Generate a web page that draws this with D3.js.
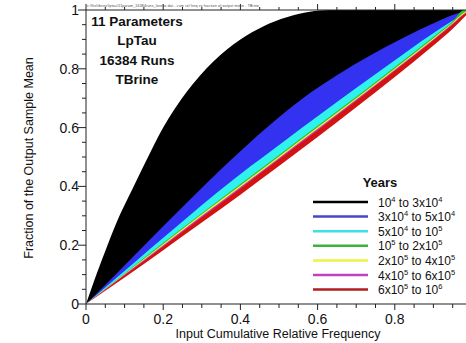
<!DOCTYPE html>
<meta charset="utf-8">
<style>
body{margin:0;background:#fff;}
text{font-family:"Liberation Sans",Arial,sans-serif;fill:#111;}
.tick{font-size:14px;}
.title{font-size:12.5px;}
.note{font-size:13.5px;font-weight:bold;}
.leg{font-size:12px;}
.axis line{stroke:#222;stroke-width:1;}
</style>
<body>
<script src="https://cdnjs.cloudflare.com/ajax/libs/d3/7.8.5/d3.min.js"></script>
<script>

// band boundaries, [x, y], from the top band down
var edgeBlackTop=[[0,0],[0.02,0.075],[0.05,0.18],[0.08,0.28],[0.12,0.39],[0.17,0.525],[0.2,0.6],[0.26,0.72],
	[0.33,0.825],[0.4,0.9],[0.46,0.945],[0.52,0.975],[0.58,0.994],[0.63,1],[1,1]];
var edgeBlackBlue=[[0,0],[0.08,0.105],[0.168,0.222],[0.254,0.335],[0.347,0.455],[0.477,0.61],[0.562,0.7],
	[0.65,0.778],[0.736,0.845],[0.821,0.905],[0.909,0.96],[0.961,0.988],[1,1]];
var edgeBlueCyan=[[0,0],[0.08,0.09],[0.168,0.19],[0.254,0.285],[0.339,0.378],[0.427,0.469],[0.477,0.518],
	[0.563,0.603],[0.651,0.688],[0.736,0.769],[0.821,0.849],[0.909,0.929],[0.961,0.973],[1,1]];
var edgeCyanGreen=[[0,0],[0.1,0.104],[0.2,0.208],[0.3,0.309],[0.4,0.408],[0.5,0.507],[0.6,0.606],[0.7,0.705],
	[0.8,0.806],[0.9,0.909],[0.95,0.962],[0.98,1],[1,1]];
var edgeGreenYellow=[[0,0],[0.1,0.102],[0.2,0.204],[0.3,0.305],[0.4,0.403],[0.5,0.502],[0.6,0.601],[0.7,0.7],
	[0.8,0.801],[0.9,0.904],[0.95,0.957],[0.985,0.995],[1,1]];
var edgeYellowMagenta=[[0,0],[0.1,0.1],[0.2,0.2],[0.3,0.3],[0.4,0.398],[0.5,0.497],[0.6,0.596],[0.7,0.696],
	[0.8,0.797],[0.9,0.9],[0.95,0.954],[0.985,0.992],[1,1]];
var edgeMagentaRed=[[0,0],[0.1,0.098],[0.2,0.196],[0.3,0.295],[0.4,0.393],[0.5,0.492],[0.6,0.591],[0.7,0.691],
	[0.8,0.793],[0.9,0.897],[0.95,0.951],[0.985,0.99],[1,1]];
var edgeRedBottom=[[0,0],[0.1,0.09],[0.2,0.183],[0.3,0.277],[0.4,0.372],[0.5,0.469],[0.6,0.568],[0.7,0.669],
	[0.8,0.772],[0.9,0.879],[0.95,0.936],[0.985,0.982],[1,1]];

var bandNames=["10^4 to 3x10^4","3x10^4 to 5x10^4","5x10^4 to 10^5","10^5 to 2x10^5",
	"2x10^5 to 4x10^5","4x10^5 to 6x10^5","6x10^5 to 10^6"];
var bandFill=["#000000","#3232f0","#2ff2ee","#30c030","#f5f53a","#c83ccc","#d31212"];
var legendStroke=["#000000","#4646c8","#3ee0e6","#3cb43c","#f0f046","#c040c0","#b01e1e"];
var notes=["11 Parameters","LpTau","16384 Runs","TBrine"];
var xTicks=[0,0.2,0.4,0.6,0.8];
var yTicks=[0,0.2,0.4,0.6,0.8,1];

var edges=[edgeBlackTop,edgeBlackBlue,edgeBlueCyan,edgeCyanGreen,edgeGreenYellow,edgeYellowMagenta,edgeMagentaRed,edgeRedBottom];

var W=466,H=343;
var svg=d3.select("body").append("svg").attr("width",W).attr("height",H);

var x=d3.scaleLinear().domain([0,1]).range([86,472]);
var y=d3.scaleLinear().domain([0,1]).range([304,10]);

svg.append("clipPath").attr("id","plot").append("rect")
	.attr("x",x(0)).attr("y",y(1)).attr("width",x(1)-x(0)).attr("height",y(0)-y(1));

// each band is painted as the area under its upper edge, the next one on top of it
var area=d3.area().curve(d3.curveMonotoneX).x(d=>x(d[0])).y0(y(0)).y1(d=>y(d[1]));
var bands=svg.append("g").attr("clip-path","url(#plot)");
edges.forEach(function(e,i){
	bands.append("path").attr("d",area(e)).attr("fill",i<bandFill.length?bandFill[i]:"#fff");
});

// axes
var minor=d3.range(0,1.0001,0.05);
var gx=svg.append("g").attr("class","axis").attr("transform","translate(0,"+y(0)+")");
gx.selectAll("line").data(minor).join("line")
	.attr("x1",d=>x(d)).attr("x2",d=>x(d)).attr("y1",0)
	.attr("y2",(d,i)=>i%4==0?6:4);
gx.append("line").attr("x1",x(0)).attr("x2",W).attr("y1",0).attr("y2",0);
gx.selectAll("text").data(xTicks).join("text").attr("class","tick")
	.attr("x",d=>x(d)).attr("y",20).attr("text-anchor","middle")
	.text(d=>d3.format("")(d));

var gt=svg.append("g").attr("class","axis").attr("transform","translate(0,"+y(1)+")");
gt.selectAll("line").data(minor).join("line")
	.attr("x1",d=>x(d)).attr("x2",d=>x(d)).attr("y1",0)
	.attr("y2",(d,i)=>i%4==0?-6:-3);
gt.append("line").attr("x1",x(0)).attr("x2",W).attr("y1",0).attr("y2",0);
gt.append("text").attr("x",x(0)+1).attr("y",-3).attr("textLength",172)
	.style("font-size","3.5px").style("fill","#444")
	.text("c:\\lhs\\tbrine\\lptau\\11param_16384runs_lorenz.dat  -  cum rel freq vs fraction of output mean  -  TBrine");

var gy=svg.append("g").attr("class","axis").attr("transform","translate("+x(0)+",0)");
gy.selectAll("line").data(minor).join("line")
	.attr("y1",d=>y(d)).attr("y2",d=>y(d)).attr("x1",0)
	.attr("x2",(d,i)=>i%4==0?-8:-4);
gy.append("line").attr("x1",0).attr("x2",0).attr("y1",y(0)).attr("y2",y(1));
gy.selectAll("text").data(yTicks).join("text").attr("class","tick")
	.attr("x",-7).attr("y",d=>y(d)+5).attr("text-anchor","end")
	.text(d=>d3.format("")(d));

svg.append("text").attr("class","title").attr("text-anchor","middle")
	.attr("transform","translate(33,158) rotate(-90)").text("Fraction of the Output Sample Mean");
svg.append("text").attr("class","title").attr("text-anchor","middle")
	.attr("x",278).attr("y",338).text("Input Cumulative Relative Frequency");

svg.selectAll(".note").data(notes).join("text").attr("class","note")
	.attr("x",137).attr("y",(d,i)=>26+i*19.4).attr("text-anchor","middle").text(d=>d);

// legend
var leg=svg.append("g");
leg.append("text").attr("x",380).attr("y",187).attr("text-anchor","middle")
	.style("font-size","13px").style("font-weight","bold").text("Years");
var rows=leg.selectAll("g.row").data(bandNames).join("g").attr("class","row")
	.attr("transform",(d,i)=>"translate(0,"+(202+i*14.6)+")");
rows.append("line").attr("x1",313).attr("x2",368)
	.attr("stroke",(d,i)=>legendStroke[i]).attr("stroke-width",2.5);
rows.each(function(d){
	var t=d3.select(this).append("text").attr("class","leg").attr("x",378).attr("y",4.5);
	var up=false;
	d.split(/(\^\d)/).forEach(function(p){
		if(!p) return;
		if(p[0]=="^"){
			t.append("tspan").attr("dy",-5).style("font-size","7.5px").text(p.slice(1));
			up=true;
		}else{
			t.append("tspan").attr("dy",up?5:0).text(p);
			up=false;
		}
	});
});
</script>
</body>
